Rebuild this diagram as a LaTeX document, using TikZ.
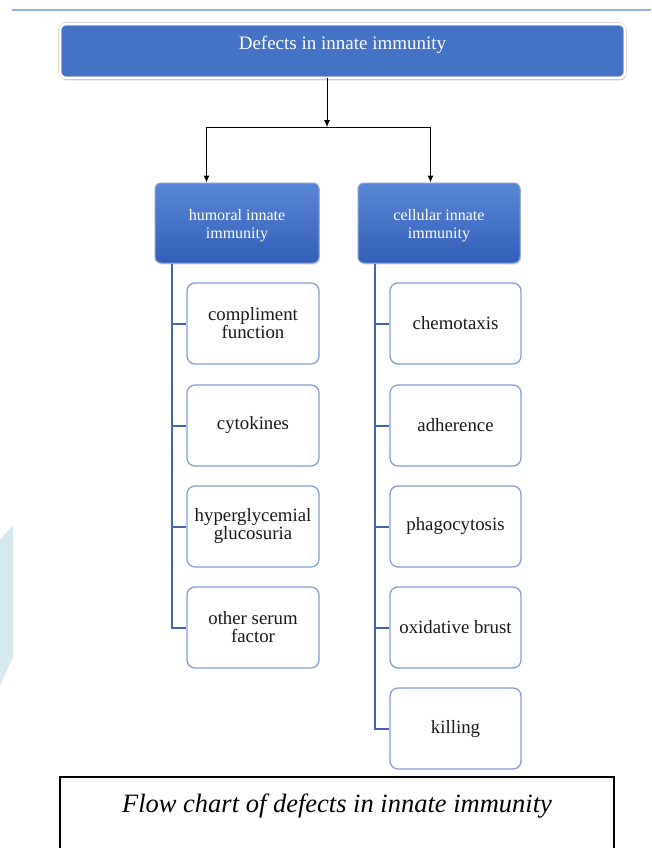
\documentclass[tikz,border=0pt]{standalone}
\usepackage{fontspec}
\setmainfont{Liberation Serif}
\usetikzlibrary{arrows.meta,shadows,calc}
\definecolor{topblue}{RGB}{68,114,196}
\definecolor{catlight}{RGB}{90,135,212}
\definecolor{catdark}{RGB}{50,95,185}
\definecolor{childedge}{RGB}{130,160,215}
\definecolor{trunkblue}{RGB}{70,100,172}
\definecolor{ruleblue}{RGB}{150,180,225}
\definecolor{wmcolor}{RGB}{214,232,240}
\tikzset{
  topbox/.style={rounded corners=6pt, fill=topblue, draw=gray!50, double=white, double distance=2.4pt,
    minimum width=565pt, minimum height=54pt, inner sep=0pt, text=white,
    font=\fontsize{19}{20}\selectfont, drop shadow={opacity=0.4, shadow xshift=1pt, shadow yshift=-2.5pt}},
  catbox/.style={rounded corners=6pt, top color=catlight, bottom color=catdark, draw=catdark!60!white,
    line width=1pt, inner sep=0pt, text=white, align=center,
    font=\fontsize{16}{18}\selectfont, drop shadow={opacity=0.25, shadow xshift=1pt, shadow yshift=-1.5pt}},
  childbox/.style={rounded corners=8pt, fill=white, draw=childedge, line width=1.3pt,
    minimum width=131pt, minimum height=81pt, inner sep=0pt, align=center,
    font=\fontsize{18.8}{18}\selectfont, text=black!90},
  trunk/.style={draw=trunkblue, line width=2pt},
  arrowline/.style={draw=black, line width=1pt},
  arrowtip/.style={arrowline, -{Latex[length=7pt,width=6pt]}},
}
\begin{document}
\begin{tikzpicture}[x=1pt,y=-1pt]
\clip (0,0) rectangle (651,848);
\fill[white] (0,0) rectangle (651,848);
% watermark shape
\fill[wmcolor] (0,540) -- (13,525) -- (13,657) -- (0,686) -- cycle;
% top rule
\draw[ruleblue, line width=1.3pt] (12,10) -- (651,10);

\node[topbox] (top) at (342.5,51) {\raisebox{6.5pt}[\height][\depth]{Defects in innate immunity}};

\node[catbox, minimum width=164pt, minimum height=80pt] (hum) at (237,223) {\raisebox{-3pt}[\height][\depth]{\parbox{150pt}{\centering humoral innate\\immunity}}};
\node[catbox, minimum width=162pt, minimum height=80pt] (cel) at (439,223) {\raisebox{-3pt}[\height][\depth]{\parbox{150pt}{\centering cellular innate\\immunity}}};

% left children
\node[childbox, minimum width=132pt] (c1) at (253,323.5) {compliment\\function};
\node[childbox, minimum width=132pt] (c2) at (253,425.5) {cytokines};
\node[childbox, minimum width=132pt] (c3) at (253,526.5) {hyperglycemial\\glucosuria};
\node[childbox, minimum width=132pt] (c4) at (253,627.5) {other serum\\factor};

% right children
\node[childbox] (d1) at (455.5,323.5) {chemotaxis};
\node[childbox] (d2) at (455.5,425.5) {adherence};
\node[childbox] (d3) at (455.5,526.5) {phagocytosis};
\node[childbox] (d4) at (455.5,627.5) {oxidative brust};
\node[childbox] (d5) at (455.5,728.5) {killing};

% top arrows
\coordinate (tstart) at ($(top.south)+(-15.5,0)$);
\coordinate (j) at ($(tstart)+(0,49)$);
\coordinate (ha) at ($(hum.north west)+(52,0)$);
\coordinate (ca) at ($(cel.north west)+(73,0)$);
\draw[arrowtip] (tstart) -- (j);
\draw[arrowline] (j -| ha) -- (j -| ca);
\draw[arrowtip] (j -| ha) -- (ha);
\draw[arrowtip] (j -| ca) -- (ca);

% trunks
\coordinate (lt) at ($(hum.south west)+(17,0)$);
\coordinate (rt) at ($(cel.south west)+(17,0)$);
\draw[trunk] (lt) |- (c4.west);
\foreach \n in {c1,c2,c3} \draw[trunk] (lt |- \n.west) -- (\n.west);
\draw[trunk] (rt) |- (d5.west);
\foreach \n in {d1,d2,d3,d4} \draw[trunk] (rt |- \n.west) -- (\n.west);

% caption
\draw[black, line width=1.8pt] (60,860) -- (60,777) -- (614,777) -- (614,860);
\node[font=\fontsize{26.5}{28}\selectfont\itshape] (cap) at (337,806) {Flow chart of defects in innate immunity};
\end{tikzpicture}
\end{document}
